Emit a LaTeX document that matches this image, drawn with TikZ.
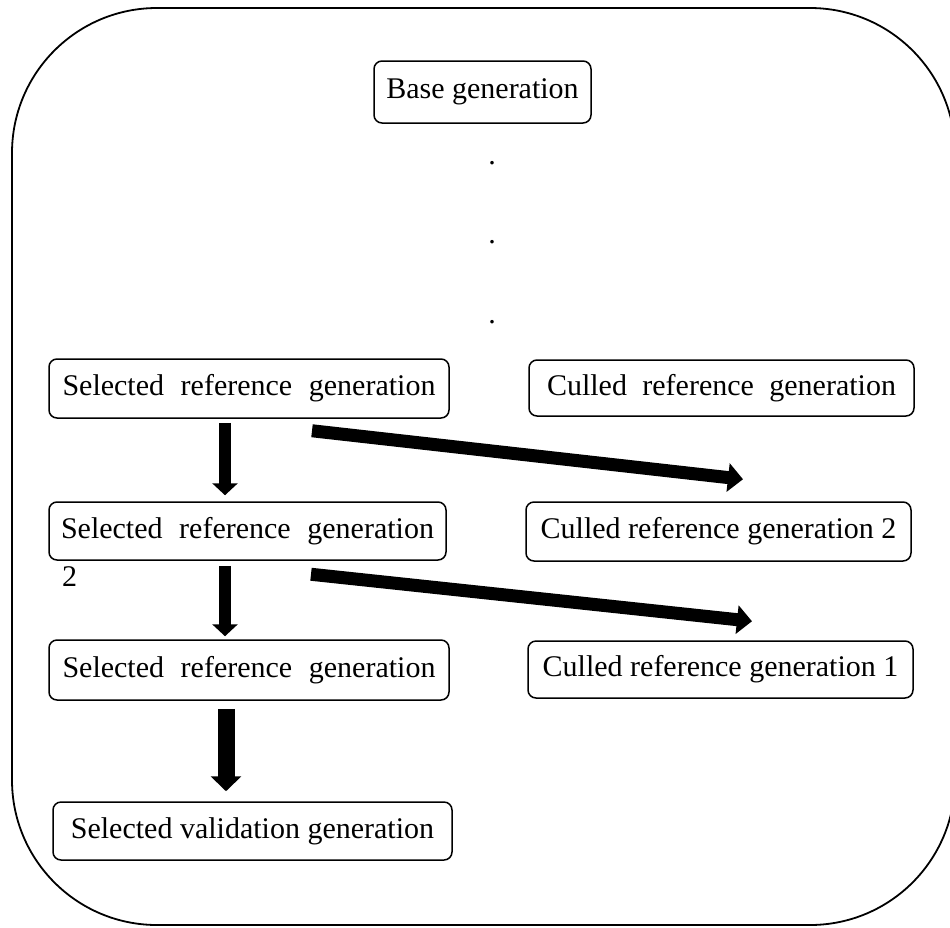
\documentclass[tikz,border=0pt]{standalone}
\usepackage{fontspec}
\setmainfont{Liberation Serif}
\usetikzlibrary{arrows.meta}
\tikzset{
  gbox/.style={draw, line width=1.5pt, rounded corners=8pt, inner sep=0pt,
    font=\fontsize{30}{36}\selectfont, align=center},
  plaintext/.style={inner sep=0pt, font=\fontsize{30}{36}\selectfont},
  bigarrow/.style={line width=12pt, -{Triangle[width=25pt,length=12pt]}},
  hugearrow/.style={line width=17pt, -{Triangle[width=30pt,length=15pt]}},
  diagarrow/.style={line width=13pt, -{Triangle[width=28pt,length=15pt]}},
}
\begin{document}
\begin{tikzpicture}[x=1pt,y=-1pt]
\useasboundingbox (0,0) rectangle (950,927);
\clip (0,0) rectangle (950,927);
\draw[line width=1.8pt, rounded corners=145pt] (12,8) rectangle (955,925);

\node[gbox, minimum width=217pt, minimum height=62pt] (base) at (482.5,92) {Base generation};
\node[plaintext] (d1) at (492,163) {.};
\node[plaintext] (d2) at (492,242) {.};
\node[plaintext] (d3) at (492,322) {.};

\node[gbox, minimum width=400pt, minimum height=59pt] (sel1) at (249,388.5) {\makebox[373pt][s]{Selected reference generation}};
\node[gbox, minimum width=397pt, minimum height=58pt] (sel2) at (247.5,531) {\makebox[373pt][s]{Selected reference generation}};
\node[plaintext, anchor=north west] (sel2b) at (62,566) {2};
\node[gbox, minimum width=400pt, minimum height=60pt] (sel3) at (249,670) {\makebox[373pt][s]{Selected reference generation}};
\node[gbox, minimum width=399pt, minimum height=58pt] (val) at (252.5,831) {Selected validation generation};

\node[gbox, minimum width=385pt, minimum height=56pt] (cull0) at (721.5,388) {\makebox[349pt][s]{Culled reference generation}};
\node[gbox, minimum width=385pt, minimum height=59pt] (cull2) at (718.5,531.5) {Culled reference generation 2};
\node[gbox, minimum width=385pt, minimum height=57pt] (cull1) at (720.5,669.5) {Culled reference generation 1};

\draw[bigarrow] ([shift={(-24,4)}]sel1.south) -- ([shift={(-22.5,-6)}]sel2.north);
\draw[bigarrow] ([shift={(-22.5,5)}]sel2.south) -- ([shift={(-24,-3)}]sel3.north);
\draw[hugearrow] ([shift={(-23,8)}]sel3.south) -- ([shift={(-26.5,-10)}]val.north);
\draw[diagarrow] ([shift={(63,12)}]sel1.south) -- ([shift={(24.5,-22)}]cull2.north);
\draw[diagarrow] ([shift={(63.5,13.5)}]sel2.south) -- ([shift={(31.5,-19)}]cull1.north);
\end{tikzpicture}
\end{document}
